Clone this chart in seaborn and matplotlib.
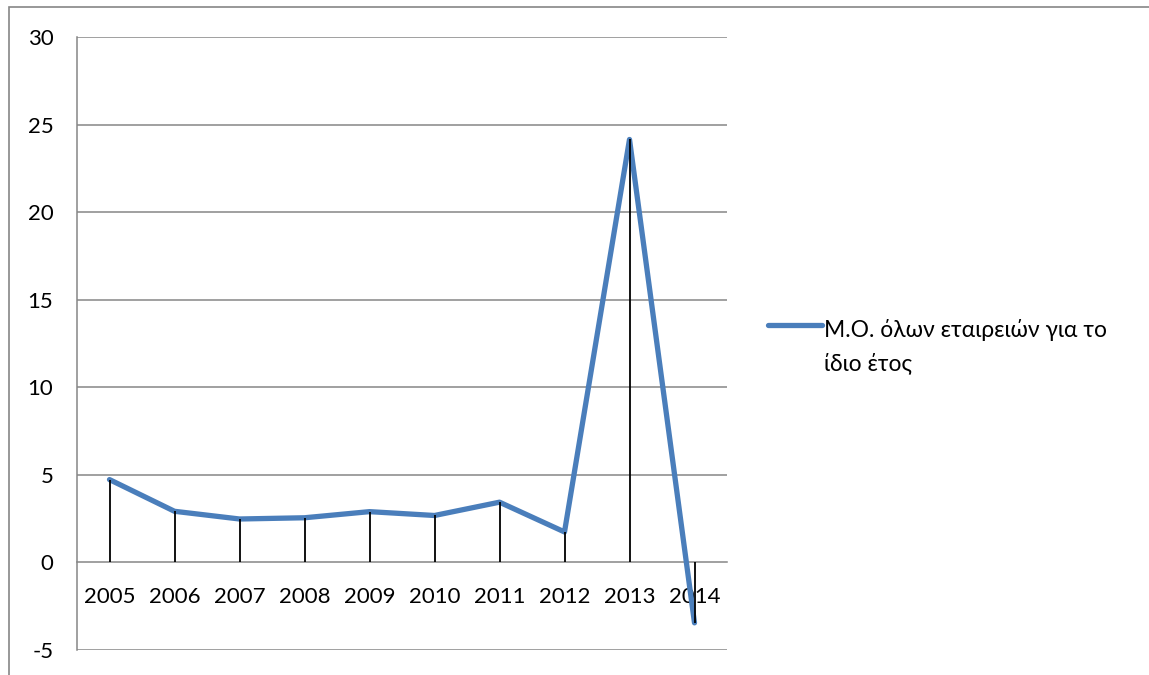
import matplotlib
matplotlib.use("Agg")
import matplotlib.pyplot as plt
from matplotlib.lines import Line2D
from matplotlib.patches import Rectangle
from matplotlib.ticker import FixedLocator, NullFormatter
import seaborn as sns
import pandas as pd
import numpy as np

years = ["2005", "2006", "2007", "2008", "2009", "2010", "2011", "2012", "2013", "2014"]
values = [4.73, 2.92, 2.48, 2.55, 2.90, 2.68, 3.44, 1.74, 24.15, -3.45]
series_label = "Μ.Ο. όλων εταιρειών για το\nίδιο έτος"
y_ticks = [-5, 0, 5, 10, 15, 20, 25, 30]

sns.set_theme(style="white")
plt.rcParams["font.family"] = ["Lato", "DejaVu Sans"]

line_color = "#4A7EBB"
grid_color = "#868686"
fs = 16

df = pd.DataFrame({"pos": np.arange(len(years)), "value": values})

fig = plt.figure(figsize=(11.49, 6.75), dpi=100)
ax = fig.add_axes([77 / 1149, 1 - 650 / 675, 650 / 1149, 613 / 675])

sns.lineplot(data=df, x="pos", y="value", ax=ax, color=line_color,
             linewidth=3.8, legend=False, zorder=3)
ax.vlines(df["pos"], 0, df["value"], color="black", linewidth=1.3, zorder=4)

ax.set_xlim(-0.5, len(years) - 0.5)
ax.set_ylim(-5, 30)
ax.set_yticks(y_ticks)
ax.set_yticklabels([str(t) for t in y_ticks])
for t in y_ticks:
    if t != 0:
        ax.axhline(t, color=grid_color, linewidth=1.1, zorder=1)

ax.set_xticks(df["pos"])
ax.set_xticklabels(years)
ax.xaxis.set_minor_locator(FixedLocator(np.arange(len(years) + 1) - 0.5))
ax.xaxis.set_minor_formatter(NullFormatter())
ax.tick_params(axis="x", which="major", length=0, pad=18, labelsize=fs, labelcolor="black")
ax.tick_params(axis="x", which="minor", length=5, width=1.1, color=grid_color, direction="out")
ax.tick_params(axis="y", which="major", length=5, width=1.1, color=grid_color,
               direction="out", pad=12, labelsize=fs, labelcolor="black")

for side in ("top", "right"):
    ax.spines[side].set_visible(False)
ax.spines["bottom"].set_position(("data", 0))
for side in ("left", "bottom"):
    ax.spines[side].set_color(grid_color)
    ax.spines[side].set_linewidth(1.1)
ax.set_xlabel("")
ax.set_ylabel("")

# legend entry beside the plot
fig.add_artist(Line2D([768 / 1149, 822 / 1149], [1 - 325 / 675] * 2,
                      color=line_color, linewidth=3.8, solid_capstyle="round"))
fig.text(824 / 1149, 1 - 319 / 675, series_label, fontsize=16.5, color="black",
         ha="left", va="top", linespacing=1.62)

# chart frame
fig.add_artist(Rectangle((9 / 1149, -0.1), 1.2, 1 - 7 / 675 + 0.1,
                         transform=fig.transFigure, fill=False,
                         edgecolor=grid_color, linewidth=1.2))

fig.savefig("out.png", dpi=100)
